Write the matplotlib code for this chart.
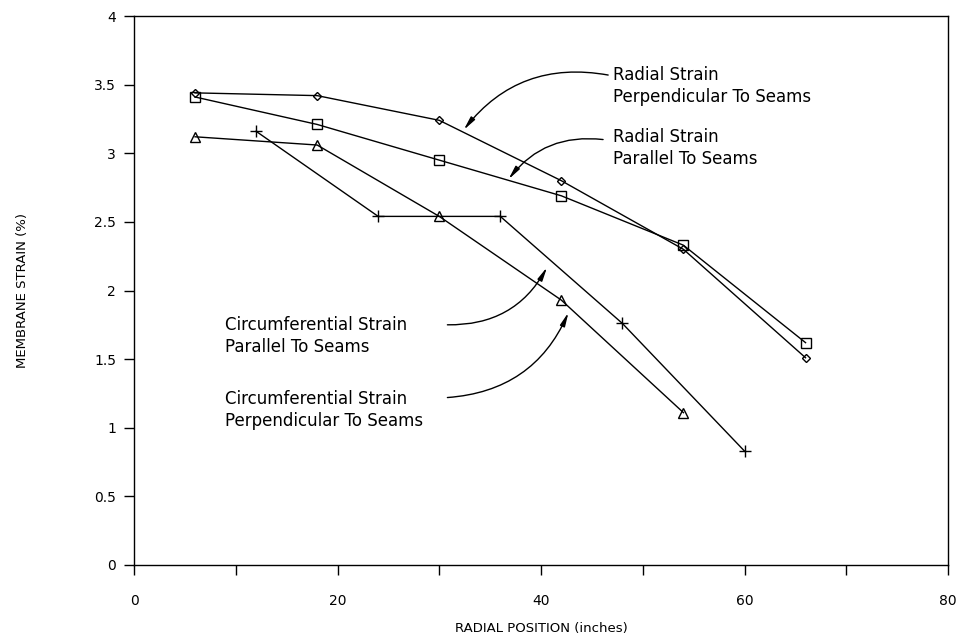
import matplotlib.pyplot as plt
from matplotlib.ticker import MultipleLocator

# radial position (inches) for each series
x_radial = [6, 18, 30, 42, 54, 66]
x_circ_perp = [6, 18, 30, 42, 54]
x_circ_par = [12, 24, 36, 48, 60]

# membrane strain (%)
radial_perp = [3.44, 3.42, 3.24, 2.80, 2.30, 1.51]
radial_par = [3.41, 3.21, 2.95, 2.69, 2.33, 1.62]
circ_perp = [3.12, 3.06, 2.54, 1.93, 1.11]
circ_par = [3.16, 2.54, 2.54, 1.76, 0.83]

labels = [
    "Radial Strain\nPerpendicular To Seams",
    "Radial Strain\nParallel To Seams",
    "Circumferential Strain\nParallel To Seams",
    "Circumferential Strain\nPerpendicular To Seams",
]

plt.rcParams['font.family'] = ['DejaVu Sans']

fig = plt.figure(figsize=(9.6, 6.41), dpi=100)
ax = fig.add_axes([0.1396, 0.1186, 0.8479, 0.8564])

kw = dict(color='black', lw=1.0, mfc='none', mec='black', mew=1.0)
ax.plot(x_radial, radial_perp, marker='D', ms=4.5, **kw)
ax.plot(x_radial, radial_par, marker='s', ms=7, **kw)
ax.plot(x_circ_perp, circ_perp, marker='^', ms=7.5, **kw)
ax.plot(x_circ_par, circ_par, marker='+', ms=9, **kw)

ax.set_xlim(0, 80)
ax.set_ylim(0, 4)
ax.xaxis.set_major_locator(MultipleLocator(20))
ax.xaxis.set_minor_locator(MultipleLocator(10))
ax.set_yticks([0, 0.5, 1, 1.5, 2, 2.5, 3, 3.5, 4])
ax.set_yticklabels(['0', '0.5', '1', '1.5', '2', '2.5', '3', '3.5', '4'])
ax.tick_params(which='both', direction='out', length=7, width=1, labelsize=10, pad=6)
ax.tick_params(axis='x', pad=14)
for s in ax.spines.values():
    s.set_linewidth(1.0)

ax.set_xlabel("RADIAL POSITION (inches)", fontsize=9.5, labelpad=10)
ax.set_ylabel("MEMBRANE STRAIN (%)", fontsize=9.5, labelpad=47)

# text labels
tkw = dict(fontsize=12, ha='left', va='center', linespacing=1.3)
ax.text(47.1, 3.49, labels[0], **tkw)
ax.text(47.1, 3.04, labels[1], **tkw)
ax.text(8.9, 1.67, labels[2], **tkw)
ax.text(8.9, 1.13, labels[3], **tkw)

# curved arrows: (start, target, rad)
arrows = [
    ((46.6, 3.57), (32.4, 3.17), 0.3),
    ((46.1, 3.10), (36.8, 2.81), 0.28),
    ((30.8, 1.75), (40.6, 2.17), 0.3),
    ((30.8, 1.22), (42.7, 1.84), 0.3),
]
for start, end, rad in arrows:
    ax.annotate('', xy=end, xytext=start,
                arrowprops=dict(arrowstyle='-|>,head_length=0.8,head_width=0.15',
                                connectionstyle=f'arc3,rad={rad}',
                                color='black', lw=1.0, shrinkA=0, shrinkB=0))

fig.savefig('out.png', dpi=100)
plt.close(fig)
